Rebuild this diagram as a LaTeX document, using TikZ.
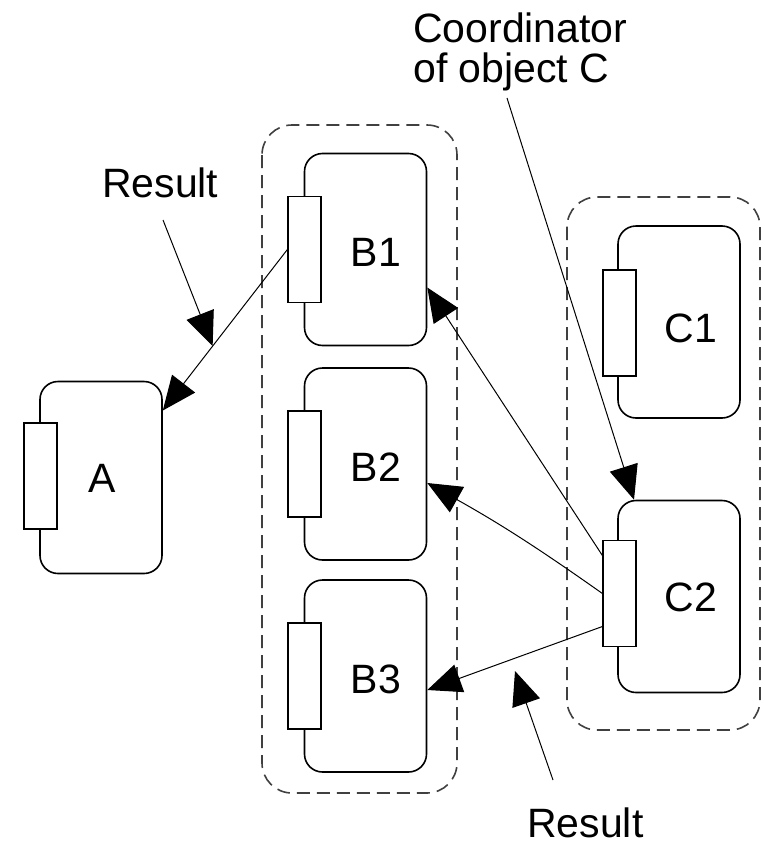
\documentclass[tikz,border=0pt]{standalone}
\usepackage{fontspec}
\setmainfont{Liberation Sans}
\usetikzlibrary{arrows.meta}

\begin{document}
\begin{tikzpicture}[x=1pt,y=-1pt,
    obj/.style={draw,line width=1.6pt,rounded corners=18pt,minimum width=122pt,minimum height=192pt,inner sep=0pt},
    port/.style={draw,fill=white,line width=1.2pt,minimum width=33pt,minimum height=106pt,inner sep=0pt},
    group/.style={draw=black!75,line width=1.6pt,dash pattern=on 13pt off 7pt,rounded corners=30pt},
    lbl/.style={font=\fontsize{41}{40}\selectfont,inner sep=0pt},
    msg/.style={line width=1pt,-{Triangle[length=34pt,width=29pt]}}]
  \useasboundingbox (0,0) rectangle (764,846);
  % dashed groups
  \draw[group] (262,125) rectangle (457,793);
  \draw[group] (567,197) rectangle (760,730);
  % object A
  \node[obj] (a) at (101,477.5) {};
  \node[port] (pa) at (40.5,476) {};
  \node[lbl] (la) at (102,478) {A};
  % objects B1..B3
  \foreach \n/\y in {1/249.5,2/464,3/676}{
    \node[obj] (b\n) at (365.5,\y) {};
    \node[port] (pb\n) at (304.5,\y) {};
    \node[lbl] (lb\n) at (376,\y+3) {B\n};
  }
  % objects C1, C2
  \node[obj] (c1) at (679,322) {};
  \node[port] (pc1) at (619.5,323) {};
  \node[lbl] (lc1) at (691,328) {C1};
  \node[obj] (c2) at (679,596.5) {};
  \node[port] (pc2) at (619.5,593.5) {};
  \node[lbl] (lc2) at (691,597) {C2};
  % messages
  \draw[msg] (pb1.west) -- coordinate[pos=0.6] (resA) ([yshift=67pt]a.east);
  \draw[msg] ([yshift=38pt]pc2.west) -- ([yshift=-38pt]b1.east);
  \draw[msg] (pc2.west) to[bend right=3] ([yshift=-19pt]b2.east);
  \draw[msg] ([yshift=-33pt]pc2.west) -- ([yshift=-14pt]b3.east);
  % captions
  \node[lbl,anchor=base west,align=left] (coord) at (413,82) {Coordinator\\of object C};
  \coordinate (coordtail) at (507,98);
  \draw[msg] (coordtail) -- ([xshift=-45pt]c2.north);
  \node[lbl,anchor=base west] (res1) at (102,197) {Result};
  \coordinate (res1tail) at (163,220);
  \draw[msg] (res1tail) -- (resA);
  \node[lbl,anchor=base west] (res2) at (527,837) {Result};
  \coordinate (res2tail) at (553,780);
  \coordinate (res2tip) at (515,671);
  \draw[msg] (res2tail) -- (res2tip);
\end{tikzpicture}
\end{document}
